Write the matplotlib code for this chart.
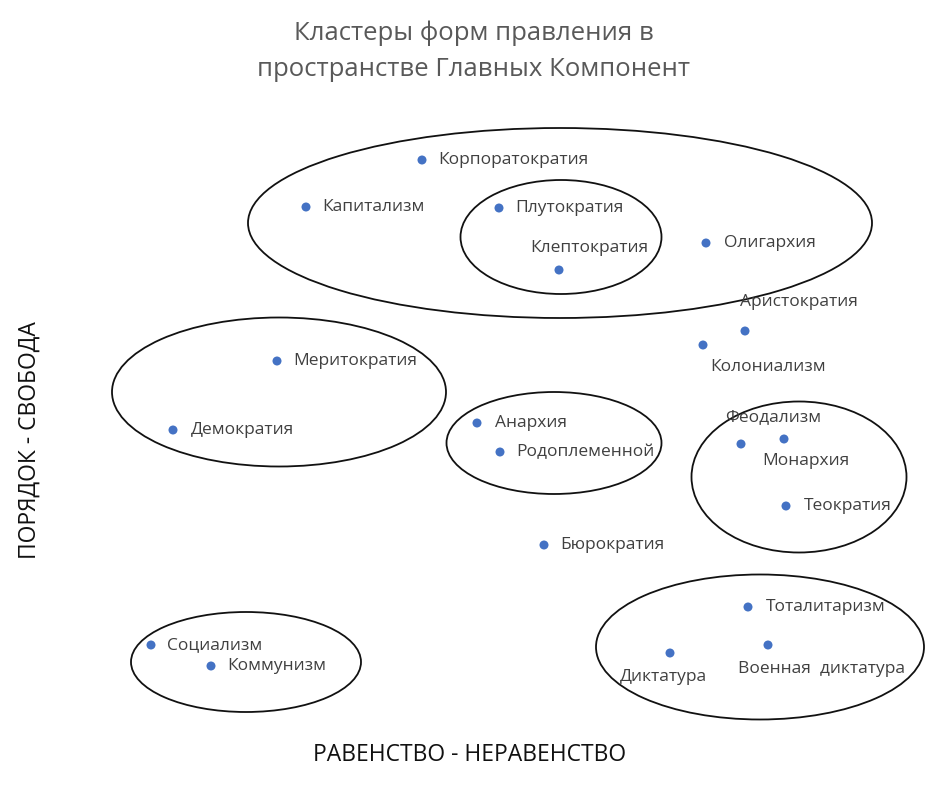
import matplotlib
matplotlib.use("Agg")
import matplotlib.pyplot as plt
from matplotlib.patches import Ellipse

# Data (positions, chart units: x right, y down)
names = ["Корпоратократия", "Капитализм", "Плутократия", "Клептократия", "Олигархия",
         "Аристократия", "Колониализм", "Меритократия", "Демократия", "Анархия",
         "Родоплеменной", "Феодализм", "Монархия", "Теократия", "Бюрократия",
         "Тоталитаризм", "Военная  диктатура", "Диктатура", "Социализм", "Коммунизм"]
xs = [422, 306, 499, 559, 706, 745, 703, 277, 173, 477, 500, 741, 784, 786, 544, 748, 768, 670, 151, 211]
ys = [160, 207, 208, 270, 243, 331, 345, 361, 430, 423, 452, 444, 439, 506, 545, 607, 645, 653, 645, 666]
# label offsets (dx, dy) in chart units
label_dx = [16, 16, 16, -29, 18, -5, 7, 16, 18, 18, 16, -16, -22, 18, 16, 18, -30, -50, 16, 16]
label_dy = [0, 0, 0, -22, 0, -29, 22, 0, 0, 0, 0, -27, 22, 0, 0, 0, 24, 24, 0, 0]

# Cluster ellipses: center x, center y, width, height
ell_cx = [560, 561, 279, 554, 799, 246, 760]
ell_cy = [223, 237, 392, 443, 477, 662, 647]
ell_w = [624, 201, 334, 215, 215, 230, 328]
ell_h = [190, 114, 149, 102, 151, 100, 145]

title = "Кластеры форм правления в\nпространстве Главных Компонент"
xlabel = "РАВЕНСТВО - НЕРАВЕНСТВО"
ylabel = "ПОРЯДОК - СВОБОДА"

fig = plt.figure(figsize=(9.49, 7.88), dpi=100)
ax = fig.add_axes([0, 0, 1, 1])
ax.set_xlim(0, 949)
ax.set_ylim(788, 0)
ax.axis("off")

font = ["Open Sans", "DejaVu Sans"]

for cx, cy, w, h in zip(ell_cx, ell_cy, ell_w, ell_h):
    ax.add_patch(Ellipse((cx, cy), w, h, fill=False, edgecolor="#111111", linewidth=1.3))

ax.scatter(xs, ys, s=42, color="#4472C4", zorder=3, edgecolors="none")
for n, x, y, dx, dy in zip(names, xs, ys, label_dx, label_dy):
    ax.text(x + dx, y + dy, n, ha="left", va="center", fontsize=12.5, color="#404040",
            family=font, zorder=4)

ax.text(474, 51, title, ha="center", va="center", fontsize=18.5, color="#595959",
        family=font, linespacing=1.6)
ax.text(470, 755, xlabel, ha="center", va="center", fontsize=16.5, color="#111111", family=font)
ax.text(30, 440, ylabel, ha="center", va="center", fontsize=16.5, color="#111111",
        family=font, rotation=90)

fig.savefig("out.png", dpi=100, facecolor="white")
